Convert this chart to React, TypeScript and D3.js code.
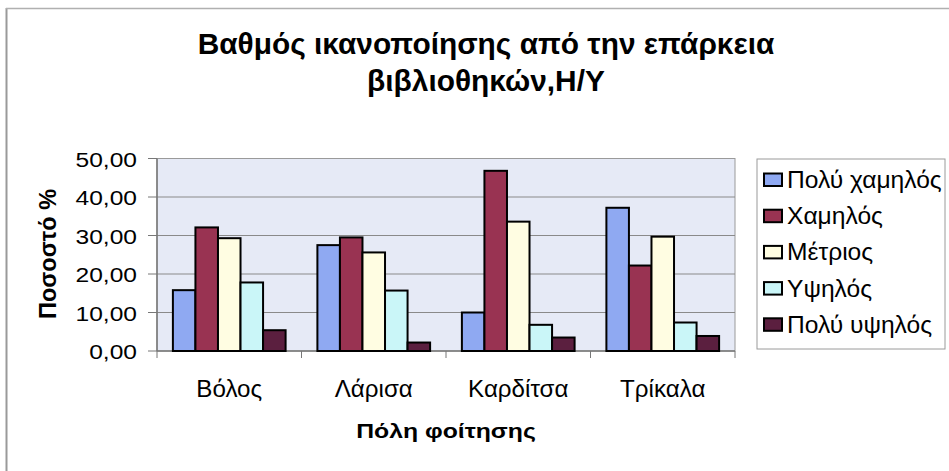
import React from "react";
import * as d3 from "d3";

const categories = ["Βόλος", "Λάρισα", "Καρδίτσα", "Τρίκαλα"];
const seriesNames = ["Πολύ χαμηλός", "Χαμηλός", "Μέτριος", "Υψηλός", "Πολύ υψηλός"];
const seriesColors = ["#8fa9f2", "#993352", "#fffde2", "#caf6f8", "#5b1f3f"];
const poluXamilos = [15.8, 27.5, 10.0, 37.2];
const xamilos = [32.1, 29.5, 46.8, 22.2];
const metrios = [29.3, 25.6, 33.6, 29.7];
const ypsilos = [17.8, 15.7, 6.8, 7.4];
const poluYpsilos = [5.4, 2.2, 3.5, 3.9];
const seriesValues = [poluXamilos, xamilos, metrios, ypsilos, poluYpsilos];
const yTicks = [0, 10, 20, 30, 40, 50];
const titleLines = ["Βαθμός ικανοποίησης από την επάρκεια", "βιβλιοθηκών,Η/Υ"];
const xTitle = "Πόλη φοίτησης";
const yTitle = "Ποσοστό %";

const FONT = "'Liberation Sans', Arial, sans-serif";

export default function App() {
  const W = 949, H = 471;
  const left = 157, right = 735, top = 158.5, bottom = 351;
  const x0 = d3.scaleBand<string>().domain(categories).range([left, right]).padding(0);
  const bw = x0.bandwidth();
  const x1 = d3.scaleBand<string>().domain(seriesNames).range([bw * 0.11, bw * 0.89]).padding(0);
  const y = d3.scaleLinear().domain([0, 50]).range([bottom, top]);
  const fmt = (v: number) => d3.format(".2f")(v).replace(".", ",");

  return (
    <svg width={W} height={H} style={{ position: "absolute", left: 0, top: 0, background: "#fff" }} fontFamily={FONT}>
      <rect x={0} y={0} width={W} height={H} fill="#fff" />
      <line x1={6.5} y1={8} x2={6.5} y2={H} stroke="#9a9a9a" strokeWidth={2} />
      <line x1={6} y1={8.5} x2={W} y2={8.5} stroke="#b0b0b0" strokeWidth={1.5} />

      {titleLines.map((t, i) => (
        <text key={i} transform={`translate(${486},${53.5 + i * 37}) scale(1.03,1)`} textAnchor="middle" fontWeight="bold" fontSize={29} fill="#000">{t}</text>
      ))}

      <rect x={left} y={top} width={right - left} height={bottom - top} fill="#e6eaf6" stroke="#9a9a9a" strokeWidth={1} />
      {yTicks.map((t) => (
        <g key={t}>
          {t > 0 && t < 50 && <line x1={left} x2={right} y1={y(t)} y2={y(t)} stroke="#8a8a8a" strokeWidth={1} />}
          <line x1={left - 9} x2={left} y1={y(t)} y2={y(t)} stroke="#777" strokeWidth={1} />
          <text transform={`translate(${137},${y(t) + 8}) scale(1.17,1)`} textAnchor="end" fontSize={21} fill="#000">{fmt(t)}</text>
        </g>
      ))}
      <line x1={left} x2={left} y1={top} y2={bottom} stroke="#777" strokeWidth={1.5} />
      <line x1={left} x2={right} y1={bottom} y2={bottom} stroke="#777" strokeWidth={1.5} />
      {categories.map((c, i) => (
        <line key={"t" + i} x1={(x0(c) as number) + bw} x2={(x0(c) as number) + bw} y1={bottom} y2={bottom + 7} stroke="#777" strokeWidth={1} />
      ))}
      <line x1={left} x2={left} y1={bottom} y2={bottom + 7} stroke="#777" strokeWidth={1} />

      {categories.map((c, ci) => (
        <g key={c} transform={`translate(${x0(c)},0)`}>
          {seriesNames.map((s, si) => {
            const v = seriesValues[si][ci];
            return (
              <rect key={s} x={x1(s)} y={y(v)} width={x1.bandwidth()} height={y(0) - y(v)} fill={seriesColors[si]} stroke="#000" strokeWidth={2} />
            );
          })}
        </g>
      ))}

      {categories.map((c) => (
        <text key={c} transform={`translate(${(x0(c) as number) + bw / 2},${397}) scale(1.05,1)`} textAnchor="middle" fontSize={23} fill="#000">{c}</text>
      ))}
      <text transform={`translate(${446},${438}) scale(1.18,1)`} textAnchor="middle" fontWeight="bold" fontSize={21} fill="#000">{xTitle}</text>
      <text transform={`translate(${56},${254}) rotate(-90)`} textAnchor="middle" fontWeight="bold" fontSize={23.5} fill="#000">{yTitle}</text>

      <rect x={757} y={159} width={188} height={190} fill="#fff" stroke="#9a9a9a" strokeWidth={1} />
      {seriesNames.map((s, i) => {
        const by = 188 + i * 36.2;
        return (
          <g key={s}>
            <rect x={764} y={by - 14.5} width={18} height={12.5} fill={seriesColors[i]} stroke="#000" strokeWidth={2} />
            <text transform={`translate(${787},${by}) scale(1.07,1)`} fontSize={23} fill="#000">{s}</text>
          </g>
        );
      })}
    </svg>
  );
}
